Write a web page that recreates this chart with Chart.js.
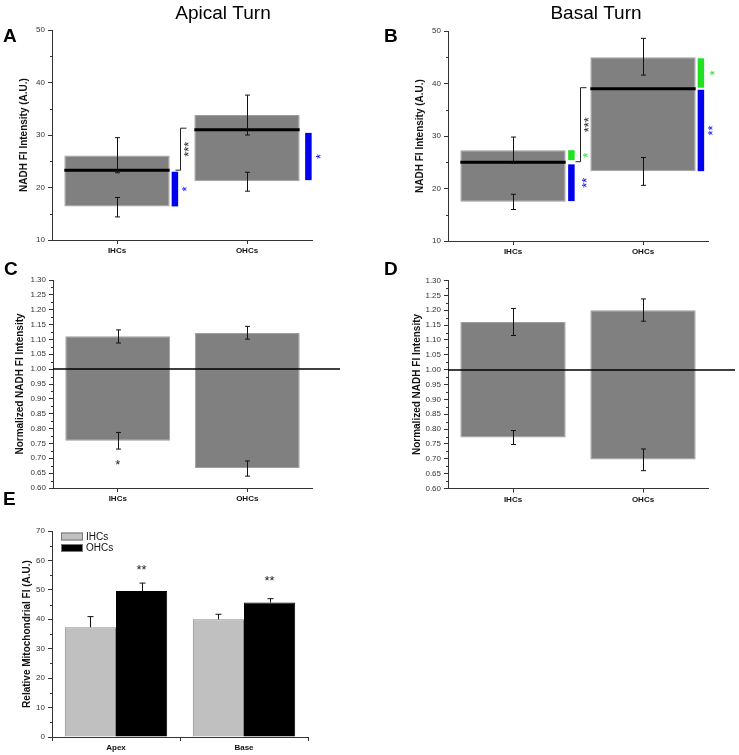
<!DOCTYPE html>
<html>
<head>
<meta charset="utf-8">
<title>NADH and mitochondrial fluorescence in IHCs and OHCs</title>
<script src="https://cdn.jsdelivr.net/npm/chart.js@4.4.1/dist/chart.umd.min.js"></script>
<style>
  html, body { margin: 0; padding: 0; background: #fff; }
  #figure { position: relative; width: 739px; height: 755px; overflow: hidden; }
  #figure canvas { position: absolute; }
</style>
</head>
<body>
<div id="figure">
  <canvas id="chartA" width="370" height="262" style="left:0;top:0"></canvas>
  <canvas id="chartB" width="369" height="262" style="left:370px;top:0"></canvas>
  <canvas id="chartC" width="370" height="250" style="left:0;top:256px"></canvas>
  <canvas id="chartD" width="369" height="250" style="left:370px;top:256px"></canvas>
  <canvas id="chartE" width="370" height="267" style="left:0;top:488px"></canvas>
</div>
<script>
Chart.defaults.font.family = '"Liberation Sans", Arial, Helvetica, sans-serif';
Chart.defaults.color = '#333';

const FONT = '"Liberation Sans", Arial, Helvetica, sans-serif';
const BLUE = '#0000ee';
const GREEN = '#22e022';

const cells = ['IHCs', 'OHCs'];

// A - apical turn, NADH FI (A.U.)
const apicalLow = [16.4, 21.2];
const apicalHigh = [26.1, 33.8];
const apicalMean = [23.3, 31.0];
const apicalErrTop = [[22.8, 29.5], [30.0, 37.6]];
const apicalErrBottom = [[14.4, 18.1], [19.3, 22.9]];
const apicalSigRange = [[16.4, 23.0], [21.4, 30.4]];
const apicalSigCell = [0, 1];
const apicalSigText = ['*', '*'];
const apicalBracket = [23.3, 31.3];

// B - basal turn, NADH FI (A.U.)
const basalLow = [17.5, 23.3];
const basalHigh = [27.3, 45.0];
const basalMean = [25.0, 39.0];
const basalErrTop = [[24.8, 29.8], [41.6, 48.6]];
const basalErrBottom = [[16.0, 18.9], [20.6, 25.9]];
const basalSigRange = [[25.4, 27.3], [17.6, 24.6], [39.2, 44.8], [23.3, 38.8]];
const basalSigCell = [0, 0, 1, 1];
const basalSigText = ['*', '**', '*', '**'];
const basalBracket = [25.1, 39.2];

// C - apical turn, normalized
const apicalNormLow = [0.759, 0.667];
const apicalNormHigh = [1.111, 1.122];
const apicalNormErrTop = [[1.088, 1.132], [1.101, 1.144]];
const apicalNormErrBottom = [[0.731, 0.787], [0.640, 0.691]];
const apicalNormStar = [0.688, null];

// D - basal turn, normalized
const basalNormLow = [0.772, 0.698];
const basalNormHigh = [1.160, 1.200];
const basalNormErrTop = [[1.115, 1.206], [1.163, 1.238]];
const basalNormErrBottom = [[0.748, 0.795], [0.660, 0.733]];

// E - relative mitochondrial FI
const turns = ['Apex', 'Base'];
const mitoIHC = [37.3, 40.0];
const mitoOHC = [49.6, 45.7];
const mitoIHCErr = [3.6, 1.7];
const mitoOHCErr = [2.7, 1.3];
const mitoStar = [57.9, 54.2];

function seg(ctx, x1, y1, x2, y2, color, w) {
    ctx.beginPath();
    ctx.strokeStyle = color;
    ctx.lineWidth = w;
    ctx.moveTo(x1, y1);
    ctx.lineTo(x2, y2);
    ctx.stroke();
}

function errBar(ctx, x, yTop, yBottom, cap) {
    x = Math.round(x) + 0.5;
    seg(ctx, x, yTop, x, yBottom, '#111', 1);
    seg(ctx, x - cap, yTop, x + cap, yTop, '#111', 1);
    seg(ctx, x - cap, yBottom, x + cap, yBottom, '#111', 1);
}

function stars(ctx, text, x, y, size, color, rotate) {
    ctx.save();
    ctx.translate(x, y);
    if (rotate) ctx.rotate(-Math.PI / 2);
    ctx.font = size + 'px ' + FONT;
    ctx.fillStyle = color;
    ctx.textAlign = 'center';
    ctx.textBaseline = 'alphabetic';
    ctx.fillText(text, 0, 0.58 * size);
    ctx.restore();
}

// mean lines, error bars, significance marks, letters
const panelExtras = {
    id: 'panelExtras',
    afterDatasetsDraw(chart, args, o) {
        const {ctx, chartArea} = chart;
        const y = chart.scales.y;
        const py = v => y.getPixelForValue(v);
        const boxes = chart.getDatasetMeta(0).data;
        const right = i => boxes[i].x + boxes[i].width / 2;
        ctx.save();

        if (o.refLine !== undefined) {
            const p = Math.round(py(o.refLine));
            seg(ctx, chartArea.left, p, o.refLineEnd, p, '#000', 1.5);
        }
        if (o.mean) {
            o.mean.forEach((m, i) => {
                seg(ctx, boxes[i].x - boxes[i].width / 2, py(m), right(i), py(m), '#000', 3);
            });
        }
        if (o.errors) {
            o.errors.forEach(set => set.forEach((e, i) => errBar(ctx, boxes[i].x, py(e[1]), py(e[0]), 2.5)));
        }
        if (o.sig) {
            o.sig.forEach((r, k) => {
                const x0 = right(o.sigCell[k]) + o.sigGap[k];
                ctx.fillStyle = o.sigColor[k];
                ctx.fillRect(x0, py(r[1]), o.sigWidth, py(r[0]) - py(r[1]));
                stars(ctx, o.sigText[k], x0 + o.sigWidth + o.sigTextDx[k], py((r[0] + r[1]) / 2), 13, o.sigColor[k], true);
            });
        }
        if (o.bracket) {
            const bx = Math.round(right(0) + o.bracketDx) + 0.5;
            const yLo = py(o.bracket[0]);
            const yHi = py(o.bracket[1]);
            seg(ctx, bx, yHi, bx, yLo, '#222', 1);
            seg(ctx, bx, yHi, bx + 6, yHi, '#222', 1);
            seg(ctx, bx - 5, yLo, bx, yLo, '#222', 1);
            stars(ctx, '***', bx + 5, (yLo + yHi) / 2, 13, '#222', true);
        }
        if (o.stars) {
            o.stars.forEach((v, i) => {
                if (v !== null) stars(ctx, '*', boxes[i].x, py(v), 13, '#222', false);
            });
        }
        if (o.upErr) {
            o.upErr.forEach((errs, d) => {
                chart.getDatasetMeta(d).data.forEach((bar, i) => {
                    const v = chart.data.datasets[d].data[i];
                    const x = Math.round(bar.x) + 0.5;
                    const top = py(v + errs[i]);
                    seg(ctx, x, py(v), x, top, '#111', 1);
                    seg(ctx, x - 3, top, x + 3, top, '#111', 1);
                });
            });
        }
        if (o.topStars) {
            const meta = chart.getDatasetMeta(1).data;
            o.topStars.forEach((v, i) => stars(ctx, '**', meta[i].x, py(v), 13, '#222', false));
        }
        ctx.restore();
    },
    afterDraw(chart, args, o) {
        const {ctx} = chart;
        const y = chart.scales.y;
        ctx.save();
        ctx.fillStyle = '#000';
        ctx.textBaseline = 'alphabetic';
        if (o.letter) {
            ctx.font = 'bold 19px ' + FONT;
            ctx.textAlign = 'left';
            ctx.fillText(o.letter, o.letterX, o.letterY);
        }
        if (o.title) {
            ctx.font = '19px ' + FONT;
            ctx.textAlign = 'center';
            ctx.fillText(o.title, o.titleX, o.titleY);
        }
        // short minor ticks
        ctx.strokeStyle = '#333';
        ctx.lineWidth = 1;
        y.ticks.forEach(t => {
            if (t.label !== '') return;
            const p = Math.round(y.getPixelForValue(t.value)) + 0.5;
            ctx.beginPath();
            ctx.moveTo(y.right - 2, p);
            ctx.lineTo(y.right, p);
            ctx.stroke();
        });
        if (o.legend) {
            chart.data.datasets.forEach((ds, d) => {
                const top = o.legend.y[d];
                ctx.fillStyle = ds.backgroundColor;
                ctx.fillRect(o.legend.x, top, 22, 8);
                ctx.strokeStyle = '#777';
                ctx.strokeRect(o.legend.x + 0.5, top + 0.5, 21, 7);
                ctx.fillStyle = '#111';
                ctx.font = '10px ' + FONT;
                ctx.textAlign = 'left';
                ctx.textBaseline = 'middle';
                ctx.fillText(ds.label, o.legend.x + 25, top + 4.5);
            });
        }
        ctx.restore();
    }
};

function yScale(min, max, step, isMajor, fmt, yWidth, titleText, titlePad) {
    return {
        min: min,
        max: max,
        afterFit: s => { s.width = yWidth; },
        ticks: {
            stepSize: step,
            autoSkip: false,
            padding: 3,
            font: { size: 8 },
            color: '#333',
            callback: v => isMajor(v) ? fmt(v) : ''
        },
        grid: {
            drawOnChartArea: false,
            tickLength: 4,
            color: '#333',
            tickColor: c => (c.tick && c.tick.label === '') ? 'rgba(0,0,0,0)' : '#333'
        },
        border: { color: '#333', width: 1 },
        title: {
            display: true,
            text: titleText,
            color: '#111',
            font: { size: 10, weight: 'bold' },
            padding: { top: titlePad, bottom: 0 }
        }
    };
}

function xScale(xHeight, offsetGrid) {
    return {
        afterFit: s => { s.height = xHeight; },
        grid: { offset: offsetGrid, drawOnChartArea: false, tickLength: 4, color: '#333' },
        border: { color: '#333', width: 1 },
        ticks: { font: { size: 8, weight: 'bold' }, color: '#111', padding: 2 }
    };
}

const every10 = v => v % 10 === 0;
const every05 = v => Math.round(v * 1000) % 50 === 0;

function boxChart(id, low, high, padding, yAxis, xHeight, extras) {
    return new Chart(document.getElementById(id), {
        type: 'bar',
        data: {
            labels: cells,
            datasets: [{
                data: low.map((v, i) => [v, high[i]]),
                backgroundColor: '#808080',
                borderColor: '#9e9e9e',
                borderWidth: 1,
                borderSkipped: false,
                barPercentage: 0.81,
                categoryPercentage: 1
            }]
        },
        options: {
            responsive: false,
            animation: false,
            events: [],
            layout: { padding: padding },
            plugins: { legend: { display: false }, tooltip: { enabled: false }, panelExtras: extras },
            scales: { x: xScale(xHeight, false), y: yAxis }
        },
        plugins: [panelExtras]
    });
}

boxChart('chartA', apicalLow, apicalHigh,
    { top: 30, right: 58, bottom: 0, left: 0 },
    yScale(10, 50, 5, every10, v => String(v), 52, 'NADH FI Intensity (A.U.)', 18), 22,
    {
        letter: 'A', letterX: 3, letterY: 42,
        title: 'Apical Turn', titleX: 223, titleY: 18.5,
        mean: apicalMean,
        errors: [apicalErrTop, apicalErrBottom],
        sig: apicalSigRange, sigCell: apicalSigCell, sigText: apicalSigText,
        sigColor: [BLUE, BLUE], sigGap: [2, 5.5], sigWidth: 6.5, sigTextDx: [5, 6],
        bracket: apicalBracket, bracketDx: 10
    });

boxChart('chartB', basalLow, basalHigh,
    { top: 31, right: 31, bottom: 0, left: 0 },
    yScale(10, 50, 5, every10, v => String(v), 78, 'NADH FI Intensity (A.U.)', 44), 21,
    {
        letter: 'B', letterX: 14, letterY: 42,
        title: 'Basal Turn', titleX: 226, titleY: 18.5,
        mean: basalMean,
        errors: [basalErrTop, basalErrBottom],
        sig: basalSigRange, sigCell: basalSigCell, sigText: basalSigText,
        sigColor: [GREEN, BLUE, GREEN, BLUE], sigGap: [2.5, 2.5, 2, 2], sigWidth: 6.5, sigTextDx: [10, 9, 7, 5],
        bracket: basalBracket, bracketDx: 14
    });

boxChart('chartC', apicalNormLow, apicalNormHigh,
    { top: 24, right: 58, bottom: 0, left: 0 },
    yScale(0.6, 1.3, 0.025, every05, v => v.toFixed(2), 53, 'Normalized NADH FI Intensity', 14), 18,
    {
        letter: 'C', letterX: 4, letterY: 19,
        errors: [apicalNormErrTop, apicalNormErrBottom],
        stars: apicalNormStar,
        refLine: 1.0, refLineEnd: 340
    });

boxChart('chartD', basalNormLow, basalNormHigh,
    { top: 24.5, right: 31, bottom: 0, left: 0 },
    yScale(0.6, 1.3, 0.025, every05, v => v.toFixed(2), 78, 'Normalized NADH FI Intensity', 41), 17.5,
    {
        letter: 'D', letterX: 14, letterY: 19,
        errors: [basalNormErrTop, basalNormErrBottom],
        refLine: 1.0, refLineEnd: 365
    });

new Chart(document.getElementById('chartE'), {
    type: 'bar',
    data: {
        labels: turns,
        datasets: [
            { label: 'IHCs', data: mitoIHC, backgroundColor: '#c0c0c0', borderColor: '#8a8a8a', borderWidth: 1,
              categoryPercentage: 0.8, barPercentage: 1 },
            { label: 'OHCs', data: mitoOHC, backgroundColor: '#000000', borderColor: '#000000', borderWidth: 1,
              categoryPercentage: 0.8, barPercentage: 1 }
        ]
    },
    options: {
        responsive: false,
        animation: false,
        events: [],
        layout: { padding: { top: 43, right: 62, bottom: 0, left: 0 } },
        plugins: {
            legend: { display: false },
            tooltip: { enabled: false },
            panelExtras: {
                letter: 'E', letterX: 3, letterY: 17,
                upErr: [mitoIHCErr, mitoOHCErr],
                topStars: mitoStar,
                legend: { x: 61, y: [44.5, 56] }
            }
        },
        scales: {
            x: xScale(18, true),
            y: yScale(0, 70, 5, every10, v => String(v), 52, 'Relative Mitochondrial FI (A.U.)', 21)
        }
    },
    plugins: [panelExtras]
});
</script>
</body>
</html>
